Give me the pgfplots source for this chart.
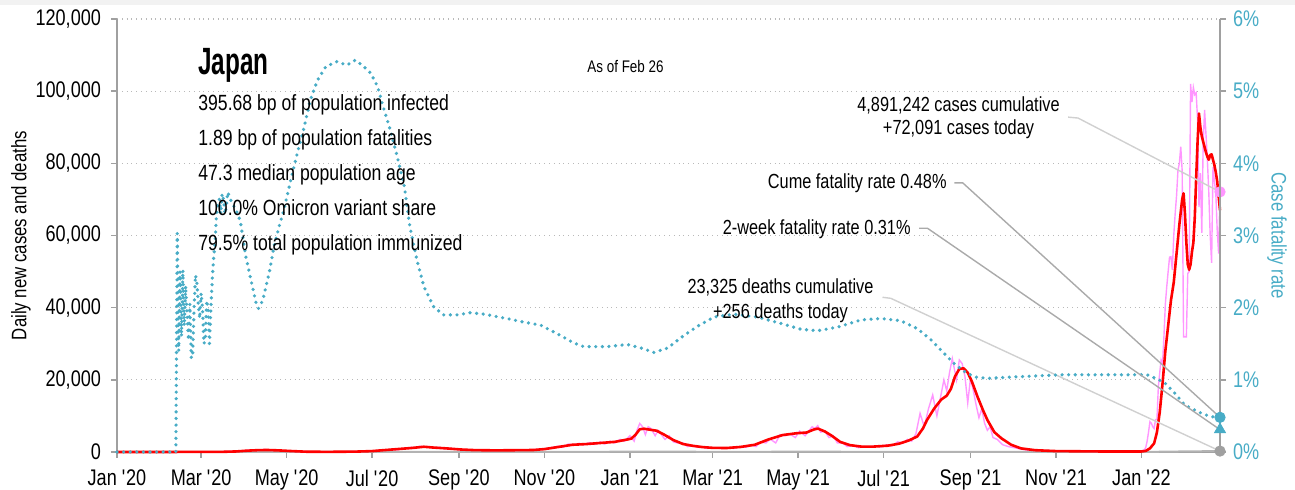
\documentclass[border=0pt]{standalone}
\usepackage{fontspec}
\setmainfont{Liberation Sans}[FakeStretch=0.8]
\newfontfamily\titlefont{Liberation Sans}[FakeStretch=0.64]
\usepackage{pgfplots}
\pgfplotsset{compat=1.18}

\definecolor{cfrteal}{RGB}{72,172,198}
\definecolor{pinkline}{RGB}{255,150,255}
\definecolor{axgray}{RGB}{160,160,160}
\definecolor{gridgray}{RGB}{185,185,185}
\definecolor{leadlight}{RGB}{208,208,208}
\definecolor{leaddark}{RGB}{170,170,170}

\pgfplotsset{
  base/.style={
    scale only axis, width=551.5pt, height=216.5pt,
    xmin=0, xmax=787, clip=false,
    /pgf/number format/assume math mode=true,
    tick label style={font=\fontsize{11.3}{13}\selectfont},
    label style={font=\fontsize{10.5}{12}\selectfont},
    axis line style={axgray, line width=1pt},
    tick style={axgray, line width=0.8pt},
    tick align=outside, major tick length=3pt,
  }
}

\begin{document}
\begin{tikzpicture}
\useasboundingbox (-58.5pt,-19pt) rectangle (589pt,226pt);
\fill[black!5] (-58.5pt,223.5pt) rectangle (589pt,226pt);

\begin{axis}[base,
  ymin=0, ymax=120000, ytick={0,20000,...,120000},
  axis x line*=bottom, axis y line*=left,
  xtick={0,60,121,182,244,305,366,425,486,547,609,670,731},
  xticklabels={Jan \textquotesingle20,Mar \textquotesingle20,May \textquotesingle20,Jul \textquotesingle20,Sep \textquotesingle20,Nov \textquotesingle20,Jan \textquotesingle21,Mar \textquotesingle21,May \textquotesingle21,Jul \textquotesingle21,Sep \textquotesingle21,Nov \textquotesingle21,Jan \textquotesingle22},
  xticklabel style={yshift=-2.5pt},
  ymajorgrids, grid style={gridgray, dotted, line width=0.6pt},
  scaled y ticks=false,
  yticklabel style={xshift=-1.5pt, /pgf/number format/.cd, fixed, 1000 sep={,}},
  ylabel={Daily new cases and deaths},
  ylabel style={at={(axis description cs:-0.087,0.5)}, anchor=center},
]
% daily deaths
\addplot[axgray!80, line width=1pt] coordinates {
(40,0)(100,30)(130,10)(220,10)(300,20)(366,80)(400,80)(440,40)(500,100)(540,20)(610,60)(650,10)(731,5)(760,150)(787,256)
};
% daily new cases
\addplot[pinkline, line width=0.7pt] coordinates {
(0,0)(40,10)(60,20)(75,50)(85,250)(90,300)(95,550)(100,400)(105,700)(110,450)(115,500)(120,250)(130,100)(150,40)(170,100)(182,250)
(190,450)(195,700)(200,600)(205,1000)(210,1300)(213,1000)(216,1600)(219,1400)(222,1500)(226,1100)(230,1300)(234,900)(238,1000)
(245,600)(250,500)(255,550)(265,400)(275,500)(285,450)(295,600)(300,700)(305,900)(310,1200)(315,1600)(318,1300)(322,2200)
(326,2000)(330,2400)(333,2000)(337,2600)(341,2100)(345,2800)(348,2200)(352,3000)(355,2500)(359,3500)(362,3000)(366,4500)
(369,3000)(371,6000)(373,7900)(375,7000)(377,4800)(379,7000)(381,6500)(384,4500)(386,6000)(388,5000)(391,3500)(394,4500)
(397,2800)(400,2500)(404,2500)(407,1500)(411,1800)(414,1300)(418,1400)(421,1000)(425,1200)(430,1000)(435,1200)(440,1000)
(445,1500)(449,1300)(452,2000)(456,1500)(459,2800)(463,2500)(466,3600)(470,2500)(473,4800)(477,4500)(480,5000)(484,4000)
(487,5800)(491,4500)(494,6000)(496,7000)(498,6500)(500,7300)(502,5500)(505,5800)(508,4000)(511,4500)(514,2500)(518,2500)
(521,1500)(525,1800)(529,1200)(533,1500)(537,1300)(541,1700)(545,1400)(549,2000)(553,1700)(557,2800)(561,2500)(564,3500)
(567,3000)(570,5000)(573,10700)(576,7000)(579,12000)(582,15800)(585,10000)(587,14000)(590,20000)(592,17000)(594,22000)
(596,25900)(599,20000)(601,25500)(603,24500)(605,21000)(607,13600)(609,20500)(611,17000)(613,13000)(615,9500)(617,12000)
(619,8000)(621,6000)(623,7000)(625,4000)(628,3500)(632,2000)(636,1500)(640,1200)(645,800)(650,500)(660,400)(680,250)
(700,150)(731,300)(733,600)(734,1200)(735,3000)(736,5500)(737,8400)(738,8000)(739,7000)(740,6500)(741,9000)(742,9000)
(743,18000)(744,22000)(745,25500)(746,24600)(747,32000)(748,41000)(749,45800)(750,50000)(751,54000)(752,54100)(753,50400)
(754,60000)(755,66000)(756,71000)(757,78100)(758,80000)(759,84600)(760,78000)(761,31900)(762,31900)(763,31900)(764,49500)
(765,50000)(766,102000)(767,97000)(768,101000)(769,99000)(770,99500)(771,92000)(772,67900)(773,77300)(774,60700)(775,85600)
(776,94800)(777,88000)(778,80900)(779,72000)(780,60000)(781,52400)(782,79000)(783,75000)(784,71800)(785,61500)(786,55000)
(787,72091)
};
% 7-day average
\addplot[red, line width=1.3pt, line join=round] coordinates {
(0,0)(30,5)(60,20)(75,40)(85,150)(92,350)(100,500)(107,560)(115,450)(125,250)(135,80)(150,40)(170,100)(182,250)(190,500)
(200,800)(210,1100)(219,1450)(225,1250)(235,1000)(245,700)(255,520)(270,450)(285,500)(297,550)(305,800)(315,1400)(325,2000)
(335,2200)(345,2500)(355,2800)(362,3300)(367,3700)(370,4800)(373,6300)(376,6450)(380,6200)(385,5900)(390,4900)(397,3300)
(404,2200)(411,1700)(418,1350)(425,1150)(435,1100)(445,1400)(455,2000)(465,3500)(475,4700)(485,5200)(492,5400)(497,6200)
(500,6500)(505,5700)(510,4500)(516,2800)(523,1900)(531,1500)(540,1500)(550,1750)(558,2300)(565,3200)(571,4300)(575,6500)
(578,8900)(583,12000)(588,14500)(592,15600)(595,17500)(598,21000)(601,23000)(604,23200)(607,22000)(610,19500)(614,15300)
(618,11500)(621,8900)(626,5500)(631,3800)(638,2000)(645,1000)(655,500)(670,250)(700,150)(731,150)(734,300)(737,1000)
(740,2400)(742,5500)(744,11000)(746,19000)(748,28000)(750,35000)(752,42000)(754,47000)(756,55000)(758,63000)(760,70000)
(761,71700)(762,66000)(763,58000)(764,52000)(765,50500)(766,52000)(767,55500)(768,58000)(769,65000)(770,76000)(771,86000)
(772,93800)(773,90000)(774,87500)(775,86000)(776,84500)(777,83000)(778,81800)(779,81000)(780,82300)(781,82500)(782,81000)
(783,79500)(784,77500)(785,75000)(786,71000)(787,67000)
};
% leaders for cases and deaths
\draw[leadlight, line width=0.7pt] (678.6,92800) -- (685.7,92550) -- (787,72091);
\draw[leadlight, line width=0.7pt] (546.2,42870) -- (552.1,42590) -- (787,256);
\addplot[only marks, mark=*, mark size=2.6pt, pinkline] coordinates {(787,72091)};
\addplot[only marks, mark=*, mark size=2.6pt, axgray] coordinates {(787,256)};
\end{axis}

\begin{axis}[base,
  ymin=0, ymax=6, ytick={0,...,6},
  axis y line*=right, axis x line=none,
  yticklabel={\pgfmathprintnumber{\tick}\%},
  yticklabel style={cfrteal},
  ylabel={Case fatality rate},
  ylabel style={cfrteal, rotate=180, at={(axis description cs:1.0517,0.5)}, anchor=center},
]
\addplot[cfrteal, line width=1.8pt, line cap=round, dash pattern=on 0pt off 3.3pt] coordinates {
(0,0)(42,0)(43,3.03)(44,1.40)(45,2.50)(46,1.60)(47,2.52)(48,1.75)(49,2.30)(50,1.90)(51,1.55)(52,2.05)(53,1.30)(54,1.35)
(55,2.00)(56,2.45)(57,2.35)(58,2.05)(59,1.85)(60,2.20)(61,2.00)(62,1.50)(63,1.55)(64,2.10)(65,2.00)(66,1.50)(67,2.00)
(68,2.40)(69,2.70)(70,2.90)(71,3.30)(72,3.45)(73,3.50)(74,3.30)(75,3.58)(76,3.50)(77,3.30)(78,3.40)(79,3.60)(80,3.55)
(82,3.45)(85,3.35)(88,3.20)(92,2.70)(96,2.35)(99,2.08)(101,1.99)(104,2.10)(109,2.52)(112,2.85)(116,3.15)(119,3.35)
(122,3.60)(124,3.77)(128,4.09)(133,4.46)(138,4.88)(143,5.15)(149,5.34)(157,5.41)(164,5.36)(170,5.43)(175,5.36)(181,5.25)
(186,5.06)(190,4.78)(195,4.46)(200,4.09)(205,3.68)(209,3.12)(214,2.66)(219,2.29)(226,2.01)(233,1.90)(243,1.90)(252,1.93)
(262,1.91)(278,1.85)(290,1.80)(302,1.76)(314,1.64)(326,1.51)(333,1.46)(350,1.46)(364,1.49)(374,1.44)(383,1.38)(393,1.44)
(402,1.58)(414,1.74)(426,1.87)(440,1.91)(457,1.87)(474,1.78)(488,1.70)(500,1.68)(514,1.73)(531,1.83)(545,1.85)(559,1.82)
(571,1.71)(581,1.55)(590,1.37)(597,1.23)(605,1.11)(612,1.04)(621,1.02)(640,1.04)(674,1.07)(735,1.07)(747,0.97)(755,0.81)
(762,0.65)(771,0.56)(780,0.49)(787,0.48)
};
\draw[leaddark, line width=0.7pt] (597.4,3.73) -- (603.4,3.73) -- (787,0.48);
\draw[leaddark, line width=0.7pt] (572.4,3.10) -- (578.3,3.10) -- (787,0.31);
\addplot[only marks, mark=*, mark size=2.6pt, cfrteal] coordinates {(787,0.48)};
\addplot[only marks, mark=triangle*, mark size=3.2pt, cfrteal] coordinates {(787,0.31)};
\end{axis}

\node[anchor=base west, inner sep=0pt, font=\titlefont\bfseries\fontsize{19}{21}\selectfont] at (40.5pt,188.5pt) {Japan};
\begin{scope}[every node/.style={anchor=base west, inner sep=0pt, font=\fontsize{11}{13}\selectfont}]
\node at (40.5pt,170.5pt) {395.68 bp of population infected};
\node at (40.5pt,153pt) {1.89 bp of population fatalities};
\node at (40.5pt,135.8pt) {47.3 median population age};
\node at (40.5pt,118pt) {100.0\% Omicron variant share};
\node at (40.5pt,100.6pt) {79.5\% total population immunized};
\end{scope}
\node[anchor=base west, inner sep=0pt, font=\fontsize{8.4}{10}\selectfont] at (235pt,189.5pt) {As of Feb 26};
\begin{scope}[every node/.style={inner sep=0pt, font=\fontsize{10.2}{12}\selectfont}]
\node[anchor=base] at (420.75pt,170.2pt) {4,891,242 cases cumulative};
\node[anchor=base] at (420.75pt,158.5pt) {+72,091 cases today};
\node[anchor=base east] at (415pt,131.8pt) {Cume fatality rate 0.48\%};
\node[anchor=base east] at (397pt,108.5pt) {2-week fatality rate 0.31\%};
\node[anchor=base] at (331.75pt,79.4pt) {23,325 deaths cumulative};
\node[anchor=base] at (331.75pt,66.9pt) {+256 deaths today};
\end{scope}
\end{tikzpicture}
\end{document}
